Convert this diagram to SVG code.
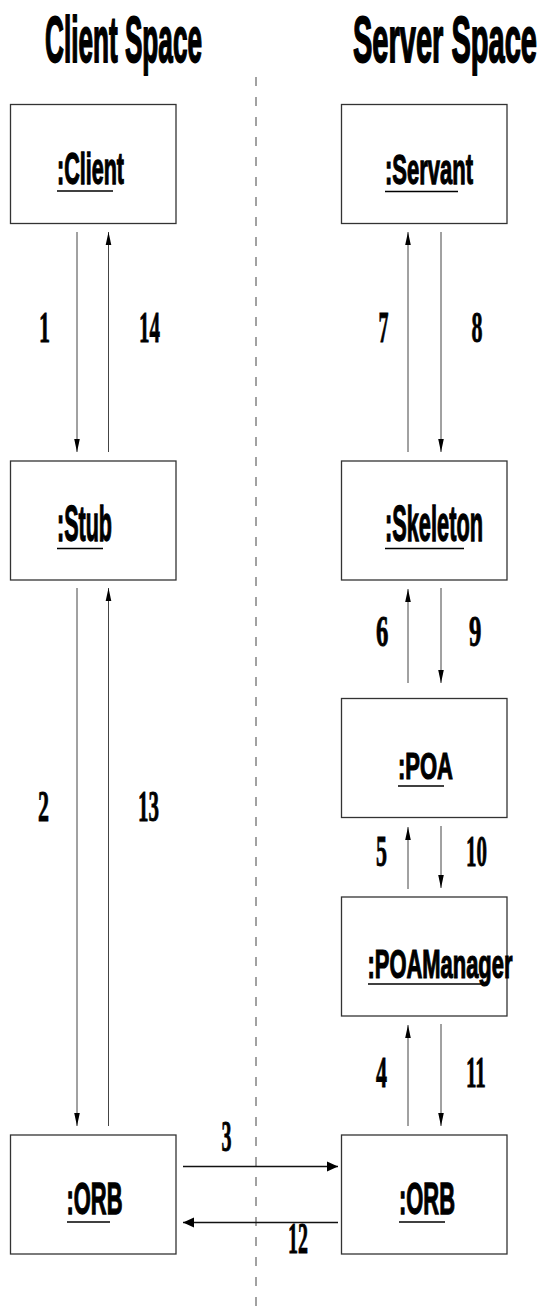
<svg xmlns="http://www.w3.org/2000/svg" width="545" height="1308" viewBox="0 0 545 1308">
<style>
.box{fill:#fff;stroke:#333;stroke-width:1.3}
.lbl{font-family:"Liberation Sans",Arial,sans-serif;font-weight:bold;fill:#000;stroke:#000;stroke-width:1;vector-effect:non-scaling-stroke}
.ttl{font-family:"Liberation Sans",Arial,sans-serif;font-weight:bold;font-size:65px;fill:#000;stroke:#000;stroke-width:1.4;vector-effect:non-scaling-stroke}
.num{font-family:"Liberation Serif","Times New Roman",serif;font-weight:bold;font-size:44px;fill:#000;stroke:#000;stroke-width:0.7;vector-effect:non-scaling-stroke}
.ul{stroke:#000;stroke-width:1.4}
.v{stroke:#444;stroke-width:1;fill:none;marker-end:url(#av)}
.h{stroke:#111;stroke-width:1.5;fill:none;marker-end:url(#ah)}
.sep{stroke:#444;stroke-width:1;stroke-dasharray:9 11}
</style>
<defs>
<marker id="av" markerUnits="userSpaceOnUse" orient="auto" refX="0" refY="0" markerWidth="14" markerHeight="6" overflow="visible">
<path d="M-13,-2.8 L0,0 L-13,2.8 Z" fill="#000"/>
</marker>
<marker id="ah" markerUnits="userSpaceOnUse" orient="auto" refX="0" refY="0" markerWidth="11" markerHeight="10" overflow="visible">
<path d="M-11,-5 L0,0 L-11,5 Z" fill="#000"/>
</marker>
</defs>
<g id="titles">
<text class="ttl" transform="matrix(0.4025 0 0 1 45 62)">Client Space</text>
<text class="ttl" transform="matrix(0.4467 0 0 1 353 62)">Server Space</text>
</g>
<line id="separator" class="sep" x1="256" y1="77" x2="256" y2="1308"/>
<g id="client">
<rect class="box" x="10.5" y="104.5" width="165.5" height="119"/>
<text class="lbl" font-size="44" transform="matrix(0.4895 0 0 1 57 184)">:Client</text>
<line class="ul" x1="57" y1="191" x2="113" y2="191"/>
</g>
<g id="servant">
<rect class="box" x="341.5" y="104.5" width="165.5" height="119"/>
<text class="lbl" font-size="42" transform="matrix(0.5238 0 0 1 385 184)">:Servant</text>
<line class="ul" x1="385" y1="191.5" x2="458" y2="191.5"/>
</g>
<g id="stub">
<rect class="box" x="10.5" y="461" width="165.5" height="119"/>
<text class="lbl" font-size="50" transform="matrix(0.4305 0 0 1 57 541)">:Stub</text>
<line class="ul" x1="57" y1="548.5" x2="103" y2="548.5"/>
</g>
<g id="skeleton">
<rect class="box" x="341.5" y="461" width="165.5" height="119"/>
<text class="lbl" font-size="50" transform="matrix(0.4355 0 0 1 385 541)">:Skeleton</text>
<line class="ul" x1="385" y1="548.5" x2="464" y2="548.5"/>
</g>
<g id="poa">
<rect class="box" x="341.5" y="698.5" width="165.5" height="119"/>
<text class="lbl" font-size="37" transform="matrix(0.5946 0 0 1 398 778.5)">:POA</text>
<line class="ul" x1="398" y1="786" x2="444" y2="786"/>
</g>
<g id="poamanager">
<rect class="box" x="341.5" y="897" width="165.5" height="119"/>
<text class="lbl" font-size="41" transform="matrix(0.5349 0 0 1 367.5 977.5)">:POAManager</text>
<line class="ul" x1="368" y1="984" x2="482" y2="984"/>
</g>
<g id="client-orb">
<rect class="box" x="10.5" y="1135" width="165.5" height="119"/>
<text class="lbl" font-size="45" transform="matrix(0.487 0 0 1 66.5 1214)">:ORB</text>
<line class="ul" x1="67" y1="1222" x2="110" y2="1222"/>
</g>
<g id="server-orb">
<rect class="box" x="341.5" y="1135" width="165.5" height="119"/>
<text class="lbl" font-size="45" transform="matrix(0.487 0 0 1 399 1214)">:ORB</text>
<line class="ul" x1="399" y1="1222" x2="445" y2="1222"/>
</g>
<g id="connectors">
<line class="v" x1="77" y1="232" x2="77" y2="452"/>
<line class="v" x1="108.5" y1="452" x2="108.5" y2="232"/>
<line class="v" x1="77" y1="588" x2="77" y2="1126"/>
<line class="v" x1="108.5" y1="1126" x2="108.5" y2="588"/>
<line class="v" x1="408" y1="452" x2="408" y2="232"/>
<line class="v" x1="441" y1="232" x2="441" y2="452"/>
<line class="v" x1="408" y1="683" x2="408" y2="589"/>
<line class="v" x1="441" y1="588" x2="441" y2="683"/>
<line class="v" x1="408" y1="889" x2="408" y2="827"/>
<line class="v" x1="441" y1="826" x2="441" y2="888"/>
<line class="v" x1="408" y1="1126" x2="408" y2="1025"/>
<line class="v" x1="441" y1="1024" x2="441" y2="1126"/>
<line class="h" x1="183" y1="1166.5" x2="338" y2="1166.5"/>
<line class="h" x1="338" y1="1222.5" x2="183" y2="1222.5"/>
<g id="connector-labels">
<text class="num" transform="matrix(0.5 0 0 1 39 342)">1</text>
<text class="num" transform="matrix(0.477 0 0 1 139 342)">14</text>
<text class="num" transform="matrix(0.4545 0 0 1 378.5 342)">7</text>
<text class="num" transform="matrix(0.5 0 0 1 471.5 342)">8</text>
<text class="num" transform="matrix(0.5 0 0 1 38 821)">2</text>
<text class="num" transform="matrix(0.477 0 0 1 138 821)">13</text>
<text class="num" font-size="39" transform="matrix(0.564 0 0 1 376 646)">6</text>
<text class="num" font-size="39" transform="matrix(0.564 0 0 1 469 646)">9</text>
<text class="num" transform="matrix(0.5 0 0 1 376 866)">5</text>
<text class="num" transform="matrix(0.477 0 0 1 466 866)">10</text>
<text class="num" transform="matrix(0.5 0 0 1 376 1087)">4</text>
<text class="num" transform="matrix(0.477 0 0 1 466 1087)">11</text>
<text class="num" transform="matrix(0.4545 0 0 1 221.5 1151)">3</text>
<text class="num" transform="matrix(0.4545 0 0 1 288 1253)">12</text>
</g>
</g>
</svg>
